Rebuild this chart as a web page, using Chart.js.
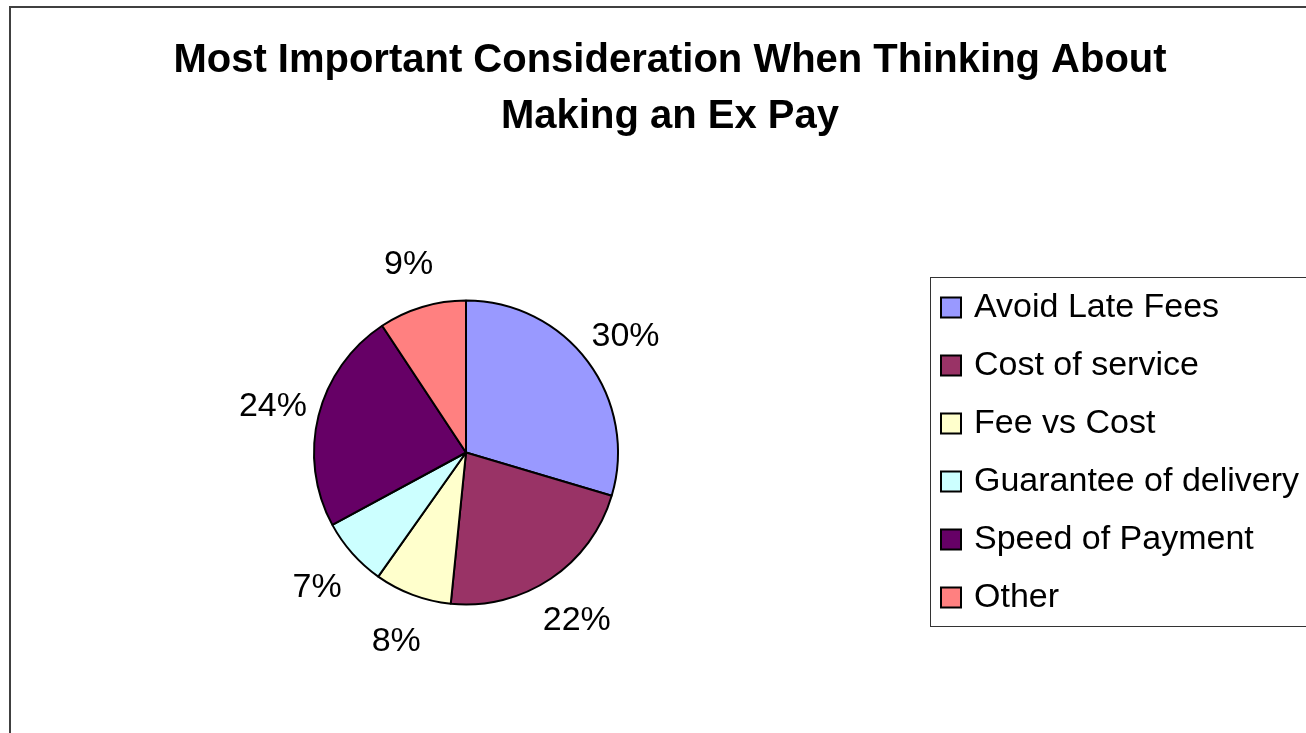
<!DOCTYPE html>
<html>
<head>
<meta charset="utf-8">
<script src="https://cdn.jsdelivr.net/npm/chart.js@4.4.1/dist/chart.umd.min.js"></script>
<style>
  html, body { margin: 0; padding: 0; background: #ffffff; overflow: hidden; }
  #frame { position: absolute; left: 9px; top: 6px; width: 1400px; height: 800px;
           border-left: 2px solid #404040; border-top: 2px solid #404040; }
  #wrap { position: absolute; left: 11px; top: 8px; width: 1320px; height: 725px; }
</style>
</head>
<body>
<div id="frame"></div>
<div id="wrap"><canvas id="c"></canvas></div>
<script>
// ---- data ----
const TITLE_LINES = ['Most Important Consideration When Thinking About', 'Making an Ex Pay'];
const CATEGORIES = ['Avoid Late Fees', 'Cost of service', 'Fee vs Cost', 'Guarantee of delivery', 'Speed of Payment', 'Other'];
const VALUES = [29.6, 22.0, 8.2, 7.3, 23.6, 9.3];
const COLORS = ['#9999FF', '#993366', '#FFFFCC', '#CCFFFF', '#660066', '#FF8080'];

// ---- style constants ----
const FONT = "'Liberation Sans', Arial, Helvetica, sans-serif";
const LABEL_SIZE = 34;
const LABEL_OFFSET = 47;
const LEGEND_WIDTH = 408;

const total = VALUES.reduce((a, b) => a + b, 0);

const legendWidthPlugin = {
  id: 'legendWidth',
  beforeLayout(chart) {
    const lg = chart.legend;
    if (lg && !lg._wPatched) {
      const orig = lg.fit;
      lg.fit = function () { orig.call(this); this.width = LEGEND_WIDTH; };
      lg._wPatched = true;
    }
  }
};

const legendFramePlugin = {
  id: 'legendFrame',
  afterDraw(chart) {
    const lg = chart.legend;
    if (!lg || !lg.legendHitBoxes || !lg.legendHitBoxes.length) return;
    const hb = lg.legendHitBoxes;
    const last = hb[hb.length - 1];
    const ctx = chart.ctx;
    const left = Math.round(lg.left + 9) + 0.5;
    const top = Math.round(hb[0].top - 14) + 0.5;
    const bottom = Math.round(last.top + last.height + 11) + 0.5;
    ctx.save();
    ctx.strokeStyle = '#333333';
    ctx.lineWidth = 1;
    ctx.strokeRect(left, top, chart.width + 10 - left, bottom - top);
    ctx.restore();
  }
};

const pieLabelPlugin = {
  id: 'pieLabels',
  afterDatasetsDraw(chart) {
    const meta = chart.getDatasetMeta(0);
    const ctx = chart.ctx;
    ctx.save();
    ctx.font = LABEL_SIZE + 'px ' + FONT;
    ctx.fillStyle = '#000000';
    ctx.textAlign = 'center';
    ctx.textBaseline = 'alphabetic';
    meta.data.forEach((arc, i) => {
      const p = arc.getProps(['x', 'y', 'startAngle', 'endAngle', 'outerRadius'], true);
      const mid = (p.startAngle + p.endAngle) / 2;
      const r = p.outerRadius + LABEL_OFFSET;
      const pct = Math.round(VALUES[i] / total * 100) + '%';
      ctx.fillText(pct, p.x + Math.cos(mid) * r, p.y + Math.sin(mid) * r + LABEL_SIZE * 0.36);
    });
    ctx.restore();
  }
};

new Chart(document.getElementById('c'), {
  type: 'pie',
  data: {
    labels: CATEGORIES,
    datasets: [{
      data: VALUES,
      backgroundColor: COLORS,
      borderColor: '#000000',
      borderWidth: 2,
      radius: 152,
      hoverOffset: 0
    }]
  },
  options: {
    responsive: true,
    maintainAspectRatio: false,
    animation: false,
    layout: { padding: { left: 0, right: 2, top: 0, bottom: 0 } },
    plugins: {
      title: {
        display: true,
        text: TITLE_LINES,
        color: '#000000',
        font: { family: FONT, size: 40, weight: 'bold', lineHeight: 1.4 },
        padding: { top: 25, bottom: 27 }
      },
      legend: {
        position: 'right',
        fullSize: false,
        labels: {
          usePointStyle: true,
          pointStyle: 'rect',
          boxWidth: 12,
          boxHeight: 20,
          padding: 24,
          color: '#000000',
          font: { family: FONT, size: 34 }
        }
      },
      tooltip: { enabled: false }
    }
  },
  plugins: [legendWidthPlugin, legendFramePlugin, pieLabelPlugin]
});
</script>
</body>
</html>
